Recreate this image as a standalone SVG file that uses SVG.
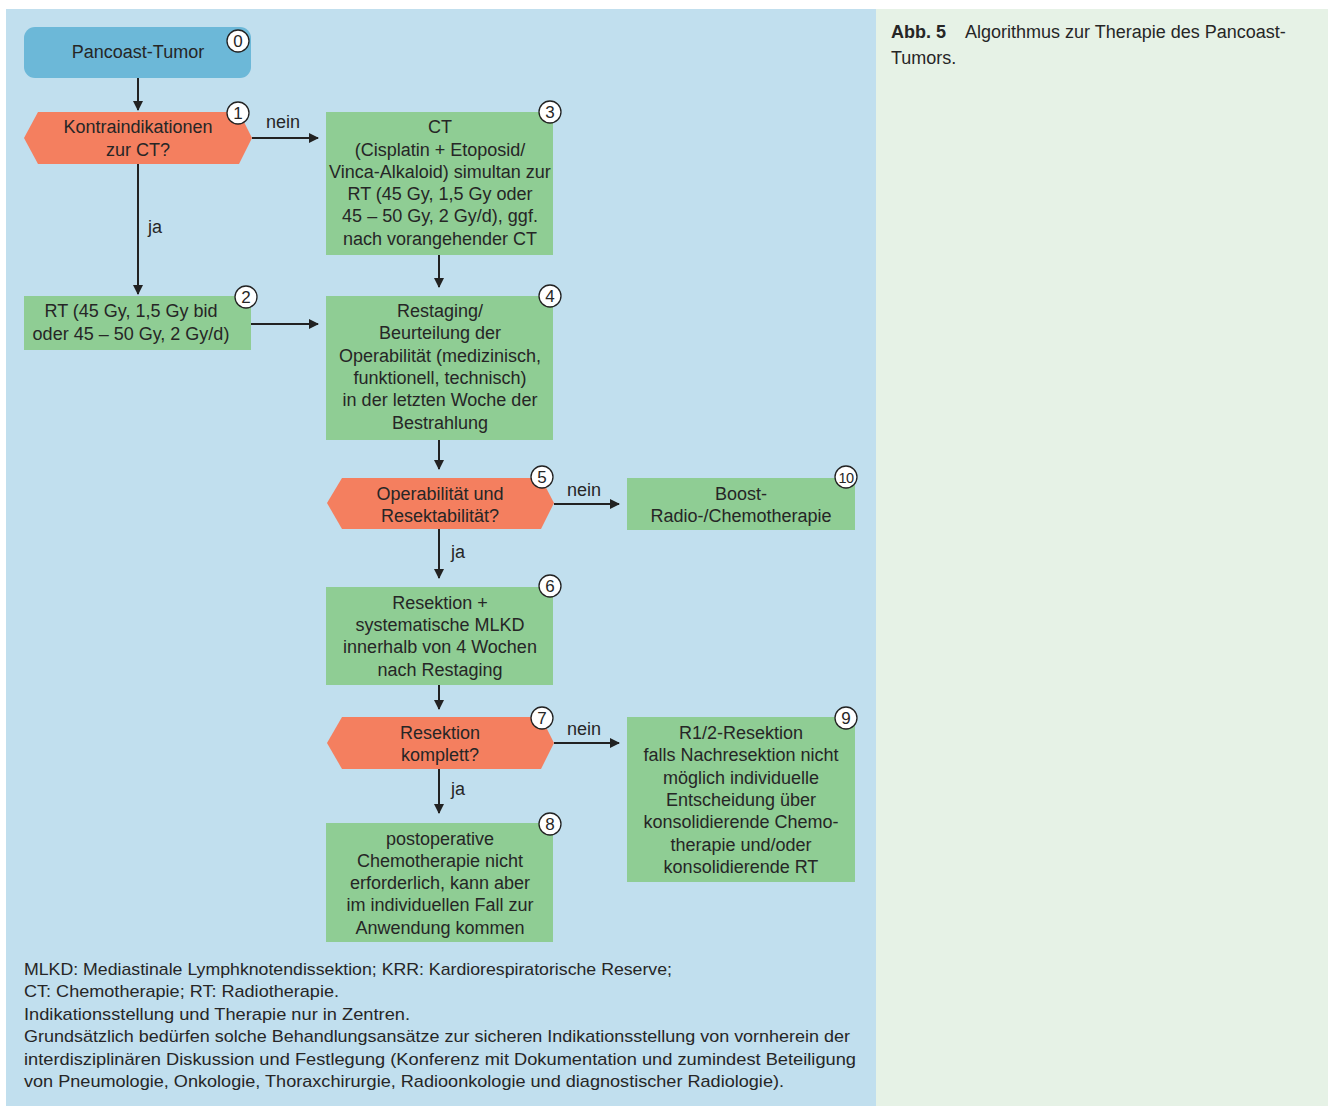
<svg xmlns="http://www.w3.org/2000/svg" width="1328" height="1106" viewBox="0 0 1328 1106">
<defs>
<style>
text{font-family:"Liberation Sans",Arial,sans-serif;fill:#262626;}
.t{font-size:18px;text-anchor:middle;}
.lbl{font-size:18px;}
.foot{font-size:17px;}
.cap{font-size:18px;}
.blue{fill:#6cb8d8;}
.red{fill:#f47f5f;}
.green{fill:#8fcd94;}
.badge circle{fill:#fff;stroke:#222;stroke-width:1.3;}
.badge text{font-size:17px;text-anchor:middle;}
.conn line{stroke:#222;stroke-width:2;marker-end:url(#ah);}
</style>
<marker id="ah" viewBox="0 0 10 10" refX="9" refY="5" markerWidth="5" markerHeight="5" orient="auto" markerUnits="strokeWidth">
<path d="M0,0 L10,5 L0,10 z" fill="#222"/>
</marker>
</defs>
<rect x="0" y="0" width="1328" height="1106" fill="#ffffff"/>
<rect x="6" y="9" width="870" height="1097" fill="#c1dfee"/>
<rect x="876" y="9" width="452" height="1097" fill="#e6f2e6"/>

<g id="caption">
<text class="cap" x="891" y="38"><tspan font-weight="bold">Abb. 5</tspan><tspan x="965">Algorithmus zur Therapie des Pancoast-</tspan></text>
<text class="cap" x="891" y="64">Tumors.</text>
</g>

<g class="conn" id="connectors">
<line x1="138" y1="78" x2="138" y2="110"/>
<line x1="252" y1="138" x2="318" y2="138"/>
<line x1="138" y1="164" x2="138" y2="294"/>
<line x1="251" y1="324" x2="318" y2="324"/>
<line x1="439" y1="255" x2="439" y2="287"/>
<line x1="439" y1="440" x2="439" y2="469"/>
<line x1="554" y1="504" x2="619" y2="504"/>
<line x1="439" y1="529" x2="439" y2="578"/>
<line x1="439" y1="685" x2="439" y2="709"/>
<line x1="554" y1="743" x2="619" y2="743"/>
<line x1="439" y1="769" x2="439" y2="813"/>
</g>
<g id="edge-labels">
<text class="lbl" x="266" y="128">nein</text>
<text class="lbl" x="148" y="233">ja</text>
<text class="lbl" x="567" y="496">nein</text>
<text class="lbl" x="451" y="558">ja</text>
<text class="lbl" x="567" y="735">nein</text>
<text class="lbl" x="451" y="795">ja</text>
</g>

<g id="n0">
<rect class="blue" x="24" y="27" width="227" height="51" rx="11"/>
<text class="t" x="138" y="58">Pancoast-Tumor</text>
<g class="badge"><circle cx="238" cy="41" r="11"/><text x="238" y="47">0</text></g>
</g>

<g id="n1">
<polygon class="red" points="24,138 38,112 239,112 252,138 239,164 38,164"/>
<text class="t" x="138" y="133">Kontraindikationen</text>
<text class="t" x="138" y="156">zur CT?</text>
<g class="badge"><circle cx="238" cy="113" r="11"/><text x="238" y="119">1</text></g>
</g>

<g id="n2">
<rect class="green" x="24" y="296" width="227" height="54"/>
<text class="t" x="131" y="317">RT (45 Gy, 1,5 Gy bid</text>
<text class="t" x="131" y="340">oder 45 – 50 Gy, 2 Gy/d)</text>
<g class="badge"><circle cx="246" cy="297" r="11"/><text x="246" y="303">2</text></g>
</g>

<g id="n3">
<rect class="green" x="326" y="112" width="227" height="143"/>
<text class="t" x="440" y="133">CT</text>
<text class="t" x="440" y="156">(Cisplatin + Etoposid/</text>
<text class="t" x="440" y="178">Vinca-Alkaloid) simultan zur</text>
<text class="t" x="440" y="200">RT (45 Gy, 1,5 Gy oder</text>
<text class="t" x="440" y="222">45 – 50 Gy, 2 Gy/d), ggf.</text>
<text class="t" x="440" y="245">nach vorangehender CT</text>
<g class="badge"><circle cx="550" cy="112" r="11"/><text x="550" y="118">3</text></g>
</g>

<g id="n4">
<rect class="green" x="326" y="296" width="227" height="144"/>
<text class="t" x="440" y="317">Restaging/</text>
<text class="t" x="440" y="339">Beurteilung der</text>
<text class="t" x="440" y="362">Operabilität (medizinisch,</text>
<text class="t" x="440" y="384">funktionell, technisch)</text>
<text class="t" x="440" y="406">in der letzten Woche der</text>
<text class="t" x="440" y="429">Bestrahlung</text>
<g class="badge"><circle cx="550" cy="296" r="11"/><text x="550" y="302">4</text></g>
</g>

<g id="n5">
<polygon class="red" points="327,503 342,478 541,478 554,503 541,529 342,529"/>
<text class="t" x="440" y="500">Operabilität und</text>
<text class="t" x="440" y="522">Resektabilität?</text>
<g class="badge"><circle cx="542" cy="477" r="11"/><text x="542" y="483">5</text></g>
</g>

<g id="n10">
<rect class="green" x="627" y="478" width="228" height="52"/>
<text class="t" x="741" y="500">Boost-</text>
<text class="t" x="741" y="522">Radio-/Chemotherapie</text>
<g class="badge"><circle cx="846" cy="477" r="11"/><text x="846" y="482.5" style="font-size:14.5px" letter-spacing="-0.5">10</text></g>
</g>

<g id="n6">
<rect class="green" x="326" y="587" width="227" height="98"/>
<text class="t" x="440" y="609">Resektion +</text>
<text class="t" x="440" y="631">systematische MLKD</text>
<text class="t" x="440" y="653">innerhalb von 4 Wochen</text>
<text class="t" x="440" y="676">nach Restaging</text>
<g class="badge"><circle cx="550" cy="586" r="11"/><text x="550" y="592">6</text></g>
</g>

<g id="n7">
<polygon class="red" points="327,743 342,717 541,717 554,743 541,769 342,769"/>
<text class="t" x="440" y="739">Resektion</text>
<text class="t" x="440" y="761">komplett?</text>
<g class="badge"><circle cx="542" cy="718" r="11"/><text x="542" y="724">7</text></g>
</g>

<g id="n9">
<rect class="green" x="627" y="717" width="228" height="165"/>
<text class="t" x="741" y="739">R1/2-Resektion</text>
<text class="t" x="741" y="761">falls Nachresektion nicht</text>
<text class="t" x="741" y="784">möglich individuelle</text>
<text class="t" x="741" y="806">Entscheidung über</text>
<text class="t" x="741" y="828">konsolidierende Chemo-</text>
<text class="t" x="741" y="851">therapie und/oder</text>
<text class="t" x="741" y="873">konsolidierende RT</text>
<g class="badge"><circle cx="846" cy="718" r="11"/><text x="846" y="724">9</text></g>
</g>

<g id="n8">
<rect class="green" x="326" y="823" width="227" height="119"/>
<text class="t" x="440" y="845">postoperative</text>
<text class="t" x="440" y="867">Chemotherapie nicht</text>
<text class="t" x="440" y="889">erforderlich, kann aber</text>
<text class="t" x="440" y="911">im individuellen Fall zur</text>
<text class="t" x="440" y="934">Anwendung kommen</text>
<g class="badge"><circle cx="550" cy="824" r="11"/><text x="550" y="830">8</text></g>
</g>

<g id="footnote">
<text class="foot" x="24" y="975" textLength="648" lengthAdjust="spacingAndGlyphs">MLKD: Mediastinale Lymphknotendissektion; KRR: Kardiorespiratorische Reserve;</text>
<text class="foot" x="24" y="997" textLength="315" lengthAdjust="spacingAndGlyphs">CT: Chemotherapie;  RT: Radiotherapie.</text>
<text class="foot" x="24" y="1020" textLength="386" lengthAdjust="spacingAndGlyphs">Indikationsstellung und Therapie nur in Zentren.</text>
<text class="foot" x="24" y="1042" textLength="826" lengthAdjust="spacingAndGlyphs">Grundsätzlich bedürfen solche Behandlungsansätze zur sicheren Indikationsstellung von vornherein der</text>
<text class="foot" x="24" y="1065" textLength="832" lengthAdjust="spacingAndGlyphs">interdisziplinären Diskussion und Festlegung (Konferenz mit Dokumentation und zumindest Beteiligung</text>
<text class="foot" x="24" y="1087" textLength="760" lengthAdjust="spacingAndGlyphs">von Pneumologie, Onkologie, Thoraxchirurgie, Radioonkologie und diagnostischer Radiologie).</text>
</g>
</svg>
